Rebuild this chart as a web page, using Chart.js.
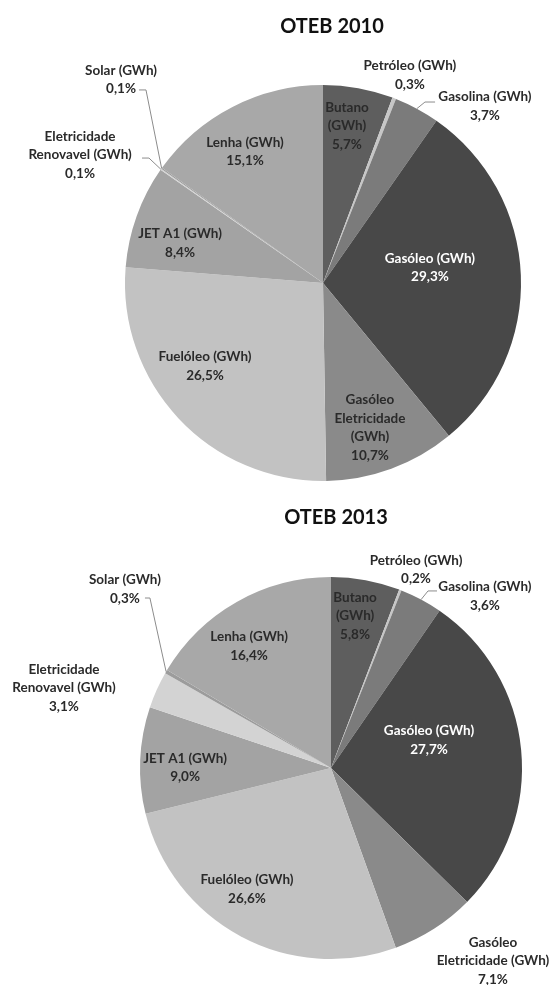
<!DOCTYPE html>
<html><head><meta charset="utf-8">
<script src="https://cdn.jsdelivr.net/npm/chart.js@4"></script>
<style>
html,body{margin:0;padding:0;background:#fff;}
#wrap{position:relative;width:555px;height:985px;overflow:hidden;background:#fff;}
.box{position:absolute;left:0;width:555px;}
</style></head><body>
<div id="wrap">
<div class="box" style="top:0;height:490px"><canvas id="c1" width="555" height="490"></canvas></div>
<div class="box" style="top:490px;height:495px"><canvas id="c2" width="555" height="495"></canvas></div>
</div>
<script>
// ---- data ----
const categories = ['Butano (GWh)', 'Petróleo (GWh)', 'Gasolina (GWh)', 'Gasóleo (GWh)', 'Gasóleo Eletricidade (GWh)', 'Fuelóleo (GWh)', 'JET A1 (GWh)', 'Eletricidade Renovavel (GWh)', 'Solar (GWh)', 'Lenha (GWh)'];
const values2010 = [5.7, 0.3, 3.7, 29.3, 10.7, 26.5, 8.4, 0.1, 0.1, 15.1];
const values2013 = [5.8, 0.2, 3.6, 27.7, 7.1, 26.6, 9.0, 3.1, 0.3, 16.4];
const titles = ['OTEB 2010', 'OTEB 2013'];
const labelLines2010 = [['Butano','(GWh)'],['Petróleo (GWh)'],['Gasolina (GWh)'],['Gasóleo (GWh)'],['Gasóleo','Eletricidade','(GWh)'],['Fuelóleo (GWh)'],['JET A1 (GWh)'],['Eletricidade','Renovavel (GWh)'],['Solar (GWh)'],['Lenha (GWh)']];
const labelLines2013 = [['Butano','(GWh)'],['Petróleo (GWh)'],['Gasolina (GWh)'],['Gasóleo (GWh)'],['Gasóleo','Eletricidade (GWh)'],['Fuelóleo (GWh)'],['JET A1 (GWh)'],['Eletricidade','Renovavel (GWh)'],['Solar (GWh)'],['Lenha (GWh)']];

// ---- style ----
const sliceColors = ['#5e5e5e', '#c6c6c6', '#7b7b7b', '#484848', '#8a8a8a', '#c2c2c2', '#a3a3a3', '#d3d3d3', '#9c9c9c', '#a8a8a8'];
const textColors = ['#2a2a2a','#2a2a2a','#2a2a2a','#ffffff','#2a2a2a','#2a2a2a','#2a2a2a','#2a2a2a','#2a2a2a','#2a2a2a'];

// label block centres relative to pie centre, in units of radius
const labelPos2010 = [[0.121,-0.793],[0.439,-1.051],[0.818,-0.894],[0.540,-0.078],[0.237,0.730],[-0.596,0.419],[-0.722,-0.202],[-1.227,-0.646],[-1.020,-1.028],[-0.394,-0.664]];
const labelPos2013 = [[0.126,-0.796],[0.445,-1.039],[0.806,-0.901],[0.513,-0.147],[0.848,1.010],[-0.440,0.634],[-0.764,-0.003],[-1.398,-0.419],[-1.079,-0.937],[-0.429,-0.639]];
// leader lines: slice index + points (radius units), ending at slice edge
const leaders2010 = [
  {i:2, pts:[[0.566,-0.914],[0.515,-0.914]]},
  {i:8, pts:[[-0.929,-0.975],[-0.894,-0.975]]},
  {i:7, pts:[[-0.914,-0.631],[-0.879,-0.631]]}
];
const leaders2013 = [
  {i:2, pts:[[0.555,-0.927],[0.508,-0.927]]},
  {i:8, pts:[[-0.974,-0.890],[-0.948,-0.890]]}
];

function pct(v){ return v.toFixed(1).replace('.', ',') + '%'; }

const labelPlugin = {
  id: 'pieLabels',
  afterDatasetsDraw(chart, args, opts) {
    const ctx = chart.ctx;
    const meta = chart.getDatasetMeta(0);
    const a0 = meta.data[0];
    const cx = a0.x, cy = a0.y, r = a0.outerRadius;
    const vals = chart.data.datasets[0].data;
    ctx.save();
    // leader lines
    ctx.strokeStyle = '#8c8c8c';
    ctx.lineWidth = 1;
    opts.leaders.forEach(l => {
      const arc = meta.data[l.i];
      const mid = (arc.startAngle + arc.endAngle) / 2;
      ctx.beginPath();
      l.pts.forEach((p, k) => {
        const x = cx + p[0]*r, y = cy + p[1]*r;
        if (k === 0) ctx.moveTo(x, y); else ctx.lineTo(x, y);
      });
      ctx.lineTo(cx + Math.cos(mid)*r, cy + Math.sin(mid)*r);
      ctx.stroke();
    });
    // labels
    ctx.font = 'bold 13.5px Lato, "Open Sans", sans-serif';
    ctx.textAlign = 'center';
    ctx.textBaseline = 'middle';
    const lh = 18.5;
    vals.forEach((v, i) => {
      const lines = opts.lines[i].concat([pct(v)]);
      const bx = cx + opts.pos[i][0]*r, by = cy + opts.pos[i][1]*r;
      ctx.fillStyle = textColors[i];
      lines.forEach((t, k) => {
        ctx.fillText(t, bx, by + (k - (lines.length-1)/2)*lh);
      });
    });
    // title
    ctx.font = 'bold 20px Lato, "Open Sans", sans-serif';
    ctx.fillStyle = '#111';
    ctx.fillText(opts.title, opts.titleX, opts.titleY);
    ctx.restore();
  }
};

function makePie(id, values, padding, lines, pos, leaders, title, titleX, titleY) {
  return new Chart(document.getElementById(id), {
    type: 'pie',
    data: {
      labels: categories,
      datasets: [{ data: values, backgroundColor: sliceColors, borderWidth: 0 }]
    },
    options: {
      responsive: false,
      animation: false,
      layout: { padding: padding },
      plugins: {
        legend: { display: false },
        tooltip: { enabled: false },
        title: { display: false },
        pieLabels: { lines: lines, pos: pos, leaders: leaders, title: title, titleX: titleX, titleY: titleY }
      }
    },
    plugins: [labelPlugin]
  });
}

makePie('c1', values2010, {left:125, right:34, top:85, bottom:9}, labelLines2010, labelPos2010, leaders2010, titles[0], 332, 27);
makePie('c2', values2013, {left:140, right:33, top:87, bottom:26}, labelLines2013, labelPos2013, leaders2013, titles[1], 336, 28);
</script>
</body></html>
